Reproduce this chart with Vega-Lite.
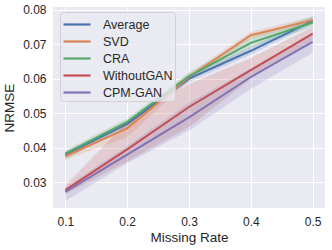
{
  "$schema": "https://vega.github.io/schema/vega-lite/v6.json",
  "width": 272,
  "height": 201,
  "autosize": "none",
  "padding": {"left": 53, "top": 7, "right": 7, "bottom": 42},
  "background": "white",
  "config": {
    "font": "Liberation Sans",
    "view": {"fill": "#eaeaf2", "stroke": null},
    "axis": {"grid": true, "gridColor": "white", "gridWidth": 1, "domain": false, "ticks": false,
      "labelFontSize": 12, "labelColor": "#262626", "titleFontSize": 13.5, "titleColor": "#262626", "titleFontWeight": "normal"},
    "legend": {"orient": "none", "legendX": 7, "legendY": 5, "fillColor": "rgba(234,234,242,0.8)", "strokeColor": "rgba(204,204,204,0.8)",
      "padding": 2, "cornerRadius": 3, "symbolType": "M-1,0H2", "symbolSize": 324, "symbolStrokeWidth": 2.2, "symbolOpacity": 1,
      "labelFontSize": 12.5, "labelColor": "#262626", "labelOffset": 20, "rowPadding": 0, "title": null}
  },
  "data": {"values": [
    {"series": "Average", "rate": 0.1, "v": 0.0380, "lo": 0.0372, "hi": 0.0388},
    {"series": "Average", "rate": 0.2, "v": 0.0469, "lo": 0.0460, "hi": 0.0478},
    {"series": "Average", "rate": 0.3, "v": 0.0600, "lo": 0.0590, "hi": 0.0612},
    {"series": "Average", "rate": 0.4, "v": 0.0681, "lo": 0.0670, "hi": 0.0692},
    {"series": "Average", "rate": 0.5, "v": 0.0768, "lo": 0.0758, "hi": 0.0778},
    {"series": "SVD", "rate": 0.1, "v": 0.0375, "lo": 0.0365, "hi": 0.0385},
    {"series": "SVD", "rate": 0.2, "v": 0.0456, "lo": 0.0430, "hi": 0.0475},
    {"series": "SVD", "rate": 0.3, "v": 0.0605, "lo": 0.0595, "hi": 0.0615},
    {"series": "SVD", "rate": 0.4, "v": 0.0726, "lo": 0.0716, "hi": 0.0736},
    {"series": "SVD", "rate": 0.5, "v": 0.0770, "lo": 0.0760, "hi": 0.0780},
    {"series": "CRA", "rate": 0.1, "v": 0.0383, "lo": 0.0365, "hi": 0.0392},
    {"series": "CRA", "rate": 0.2, "v": 0.0475, "lo": 0.0465, "hi": 0.0485},
    {"series": "CRA", "rate": 0.3, "v": 0.0607, "lo": 0.0595, "hi": 0.0618},
    {"series": "CRA", "rate": 0.4, "v": 0.0704, "lo": 0.0690, "hi": 0.0720},
    {"series": "CRA", "rate": 0.5, "v": 0.0763, "lo": 0.0750, "hi": 0.0782},
    {"series": "WithoutGAN", "rate": 0.1, "v": 0.0277, "lo": 0.0265, "hi": 0.0290},
    {"series": "WithoutGAN", "rate": 0.2, "v": 0.0395, "lo": 0.0360, "hi": 0.0475},
    {"series": "WithoutGAN", "rate": 0.3, "v": 0.0518, "lo": 0.0460, "hi": 0.0585},
    {"series": "WithoutGAN", "rate": 0.4, "v": 0.0625, "lo": 0.0600, "hi": 0.0660},
    {"series": "WithoutGAN", "rate": 0.5, "v": 0.0731, "lo": 0.0710, "hi": 0.0750},
    {"series": "CPM-GAN", "rate": 0.1, "v": 0.0272, "lo": 0.0245, "hi": 0.0285},
    {"series": "CPM-GAN", "rate": 0.2, "v": 0.0380, "lo": 0.0355, "hi": 0.0405},
    {"series": "CPM-GAN", "rate": 0.3, "v": 0.0488, "lo": 0.0450, "hi": 0.0530},
    {"series": "CPM-GAN", "rate": 0.4, "v": 0.0605, "lo": 0.0570, "hi": 0.0630},
    {"series": "CPM-GAN", "rate": 0.5, "v": 0.0707, "lo": 0.0675, "hi": 0.0730}
  ]},
  "encoding": {
    "x": {"field": "rate", "type": "quantitative", "title": "Missing Rate",
      "scale": {"domain": [0.08, 0.52], "nice": false, "zero": false},
      "axis": {"values": [0.1, 0.2, 0.3, 0.4, 0.5], "format": ".1f", "labelPadding": 8, "titlePadding": 3}},
    "color": {"field": "series", "type": "nominal",
      "scale": {"domain": ["Average", "SVD", "CRA", "WithoutGAN", "CPM-GAN"],
        "range": ["#4c72b0", "#dd8452", "#55a868", "#c44e52", "#8172b3"]}}
  },
  "layer": [
    {
      "mark": {"type": "area", "opacity": 0.2},
      "encoding": {
        "y": {"field": "lo", "type": "quantitative", "title": "NRMSE",
          "scale": {"domain": [0.0225, 0.0808], "nice": false, "zero": false},
          "axis": {"values": [0.03, 0.04, 0.05, 0.06, 0.07, 0.08], "format": ".2f", "labelPadding": 7, "titlePadding": 6}},
        "y2": {"field": "hi"}
      }
    },
    {
      "mark": {"type": "line", "strokeWidth": 2},
      "encoding": {
        "y": {"field": "v", "type": "quantitative"}
      }
    }
  ]
}
